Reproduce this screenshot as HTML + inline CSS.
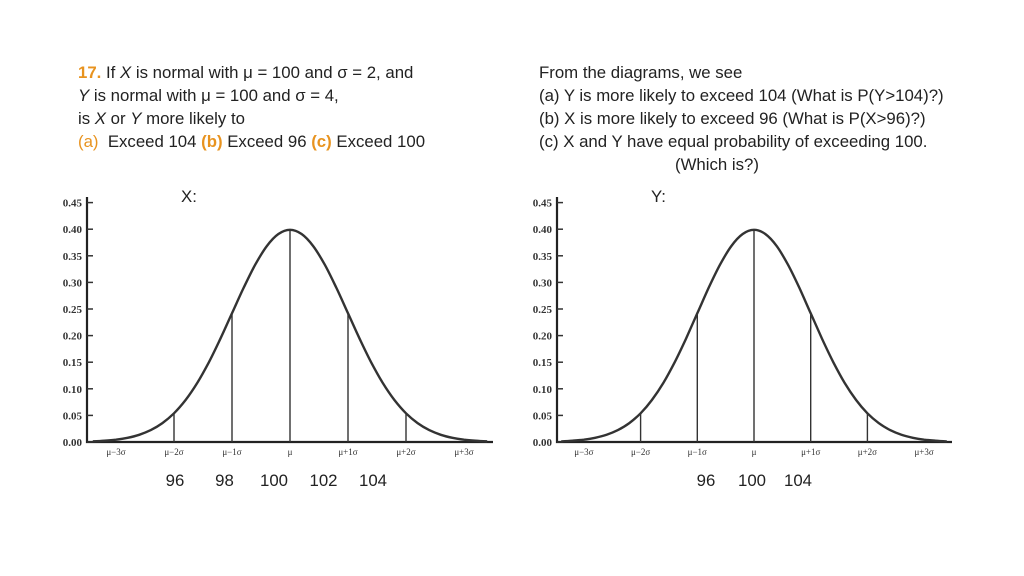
<!DOCTYPE html>
<html><head><meta charset="utf-8"><style>
body{margin:0;background:#fff;}
#page{position:relative;width:1024px;height:576px;overflow:hidden;background:#fff;font-family:"Liberation Sans",sans-serif;color:#222;}
.t{position:absolute;font-size:16.8px;line-height:23px;white-space:nowrap;}
.o{color:#e8931f;}
.b{font-weight:bold;}
svg{position:absolute;left:0;top:0;}
</style></head><body>
<div id="page">
<div class="t" style="left:78px;top:61px">
<span class="o b">17.</span> If <i>X</i> is normal with μ = 100 and σ = 2, and<br>
<i>Y</i> is normal with μ = 100 and σ = 4,<br>
is <i>X</i> or <i>Y</i> more likely to<br>
<span class="o">(a)</span>&nbsp; Exceed 104 <span class="o b">(b)</span> Exceed 96 <span class="o b">(c)</span> Exceed 100
</div>
<div class="t" style="left:539px;top:61px">
From the diagrams, we see<br>
(a) Y is more likely to exceed 104 (What is P(Y&gt;104)?)<br>
(b) X is more likely to exceed 96 (What is P(X&gt;96)?)<br>
(c) X and Y have equal probability of exceeding 100.<br>
<span style="padding-left:136px">(Which is?)</span>
</div>
<div class="t" style="left:181px;top:185px">X:</div>
<div class="t" style="left:651px;top:185px">Y:</div>
<svg id="svg" width="1024" height="576"></svg>
</div>
<script>
const yTicks=["0.00","0.05","0.10","0.15","0.20","0.25","0.30","0.35","0.40","0.45"];
const xTickLabels=["μ−3σ","μ−2σ","μ−1σ","μ","μ+1σ","μ+2σ","μ+3σ"];
const zPoints=[-3.4,-3.2,-3.0,-2.8,-2.6,-2.4,-2.2,-2.0,-1.8,-1.6,-1.4,-1.2,-1.0,-0.8,-0.6,-0.4,-0.2,0,0.2,0.4,0.6,0.8,1.0,1.2,1.4,1.6,1.8,2.0,2.2,2.4,2.6,2.8,3.0,3.2,3.4];
const densities=[0.0012,0.0024,0.0044,0.0079,0.0136,0.0224,0.0355,0.054,0.079,0.1109,0.1497,0.1942,0.242,0.2897,0.3332,0.3683,0.391,0.3989,0.391,0.3683,0.3332,0.2897,0.242,0.1942,0.1497,0.1109,0.079,0.054,0.0355,0.0224,0.0136,0.0079,0.0044,0.0024,0.0012];
const markerZ=[-2,-1,0,1,2];
const markerD=[0.054,0.242,0.3989,0.242,0.054];
const xValueLabels=["96","98","100","102","104"];
const xValueZ=[-2,-1,0,1,2];
const yValueLabels=["96","100","104"];
const yValueZ=[-1,0,1];
const NS="http://www.w3.org/2000/svg";
const svg=document.getElementById('svg');
function mk(tag,attrs,parent){const e=document.createElementNS(NS,tag);for(const k in attrs)e.setAttribute(k,attrs[k]);(parent||svg).appendChild(e);return e;}
function smooth(pts){let d=`M${pts[0][0].toFixed(1)} ${pts[0][1].toFixed(1)}`;
  for(let i=0;i<pts.length-1;i++){const p0=pts[Math.max(0,i-1)],p1=pts[i],p2=pts[i+1],p3=pts[Math.min(pts.length-1,i+2)];
    const c1=[p1[0]+(p2[0]-p0[0])/6,p1[1]+(p2[1]-p0[1])/6],c2=[p2[0]-(p3[0]-p1[0])/6,p2[1]-(p3[1]-p1[1])/6];
    d+=`C${c1[0].toFixed(1)} ${c1[1].toFixed(1)} ${c2[0].toFixed(1)} ${c2[1].toFixed(1)} ${p2[0].toFixed(1)} ${p2[1].toFixed(1)}`;}
  return d;}
function chart(name,axX,axEnd,mu,sig,valLabels,valZ,valC,valStep){
  const g=mk('g',{});
  
  
  const y0=442,per=26.6;
  const Y=v=>y0-v/0.05*per, X=z=>mu+z*sig;
  const ax=mk('path',{d:`M${axX} 197V${y0}H${axEnd}`,stroke:'#222','stroke-width':2.2,fill:'none'},g);
  
  yTicks.forEach((t,i)=>{const y=Y(i*0.05);
    mk('line',{x1:axX,x2:axX+6,y1:y,y2:y,stroke:'#333','stroke-width':1.5},g);
    const tx=mk('text',{x:axX-5,y:y+4,'text-anchor':'end','font-size':11,'font-weight':'bold','font-family':'Liberation Serif,serif',fill:'#333'},g);
    tx.textContent=t;
    });
  xTickLabels.forEach((t,i)=>{const x=X(i-3);
    const tx=mk('text',{x:x,y:455,'text-anchor':'middle','font-size':9,'font-family':'Liberation Serif,serif',fill:'#333'},g);
    tx.textContent=t;
    });
  markerZ.forEach((z,i)=>{const l=mk('line',{x1:X(z),x2:X(z),y1:y0,y2:Y(markerD[i]),stroke:'#333','stroke-width':1.4},g);
    });
  const pts=zPoints.map((z,i)=>[X(z),Y(densities[i])]);
  const c=mk('path',{d:smooth(pts),stroke:'#333','stroke-width':2.4,fill:'none','stroke-linejoin':'round'},g);
  
  valLabels.forEach((t,i)=>{const tx=mk('text',{x:valC+valZ[i]*valStep,y:486,'text-anchor':'middle','font-size':16.8,'font-family':'Liberation Sans,sans-serif',fill:'#222'},g);
    tx.textContent=t;
    });
}
chart('chart-x',87,493,290,58,xValueLabels,xValueZ,274,49.5);
chart('chart-y',557,952,754,56.7,yValueLabels,yValueZ,752,46);
</script>
</body></html>
